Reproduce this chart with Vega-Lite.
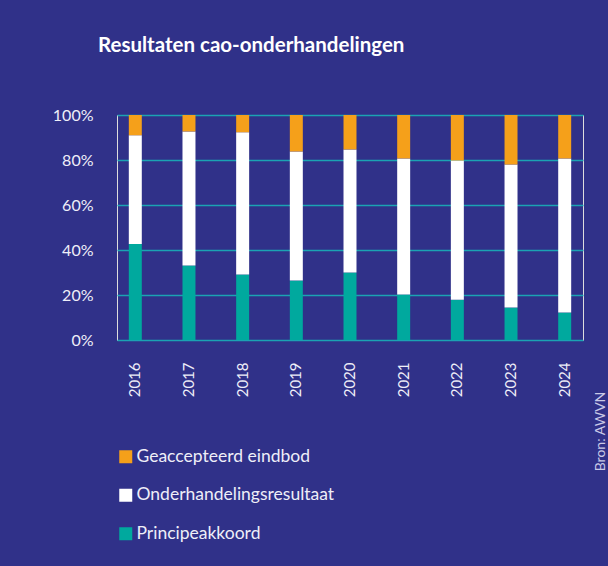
{
  "$schema": "https://vega.github.io/schema/vega-lite/v6.json",
  "autosize": {"type": "none"},
  "width": 466,
  "height": 225,
  "padding": {"left": 117, "top": 115, "right": 25, "bottom": 226},
  "background": "#303189",
  "title": {
    "text": "Resultaten cao-onderhandelingen",
    "anchor": "start",
    "frame": "group",
    "dx": -19,
    "offset": 51,
    "font": "Lato",
    "fontSize": 20.5,
    "fontWeight": "bold",
    "color": "#ffffff"
  },
  "data": {
    "values": [
      {"jaar": "2016", "type": "Principeakkoord", "pct": 42.7},
      {"jaar": "2016", "type": "Onderhandelingsresultaat", "pct": 48.3},
      {"jaar": "2016", "type": "Geaccepteerd eindbod", "pct": 9.0},
      {"jaar": "2017", "type": "Principeakkoord", "pct": 33.1},
      {"jaar": "2017", "type": "Onderhandelingsresultaat", "pct": 59.6},
      {"jaar": "2017", "type": "Geaccepteerd eindbod", "pct": 7.3},
      {"jaar": "2018", "type": "Principeakkoord", "pct": 29.1},
      {"jaar": "2018", "type": "Onderhandelingsresultaat", "pct": 63.2},
      {"jaar": "2018", "type": "Geaccepteerd eindbod", "pct": 7.7},
      {"jaar": "2019", "type": "Principeakkoord", "pct": 26.4},
      {"jaar": "2019", "type": "Onderhandelingsresultaat", "pct": 57.4},
      {"jaar": "2019", "type": "Geaccepteerd eindbod", "pct": 16.2},
      {"jaar": "2020", "type": "Principeakkoord", "pct": 30.0},
      {"jaar": "2020", "type": "Onderhandelingsresultaat", "pct": 54.7},
      {"jaar": "2020", "type": "Geaccepteerd eindbod", "pct": 15.3},
      {"jaar": "2021", "type": "Principeakkoord", "pct": 20.2},
      {"jaar": "2021", "type": "Onderhandelingsresultaat", "pct": 60.5},
      {"jaar": "2021", "type": "Geaccepteerd eindbod", "pct": 19.3},
      {"jaar": "2022", "type": "Principeakkoord", "pct": 17.9},
      {"jaar": "2022", "type": "Onderhandelingsresultaat", "pct": 61.9},
      {"jaar": "2022", "type": "Geaccepteerd eindbod", "pct": 20.2},
      {"jaar": "2023", "type": "Principeakkoord", "pct": 14.4},
      {"jaar": "2023", "type": "Onderhandelingsresultaat", "pct": 63.6},
      {"jaar": "2023", "type": "Geaccepteerd eindbod", "pct": 22.0},
      {"jaar": "2024", "type": "Principeakkoord", "pct": 12.2},
      {"jaar": "2024", "type": "Onderhandelingsresultaat", "pct": 68.5},
      {"jaar": "2024", "type": "Geaccepteerd eindbod", "pct": 19.3}
    ]
  },
  "transform": [
    {"calculate": "datum.type === 'Principeakkoord' ? 0 : datum.type === 'Onderhandelingsresultaat' ? 1 : 2", "as": "volgorde"}
  ],
  "mark": {"type": "bar"},
  "encoding": {
    "x": {
      "field": "jaar",
      "type": "ordinal",
      "scale": {"paddingInner": 0.758, "paddingOuter": 0.22},
      "axis": {
        "title": "Bron: AWVN",
        "titleAngle": 270,
        "titleX": 483,
        "titleY": 91,
        "titleAlign": "center",
        "titleBaseline": "middle",
        "titleFont": "Lato",
        "titleFontSize": 14,
        "titleFontWeight": "normal",
        "titleColor": "#c9c9e6",
        "labelAngle": -90,
        "labelAlign": "right",
        "labelBaseline": "middle",
        "labelPadding": 22,
        "labelFont": "Lato",
        "labelFontSize": 15,
        "labelColor": "#eeeef8",
        "ticks": false,
        "domain": false,
        "grid": false
      }
    },
    "y": {
      "field": "pct",
      "type": "quantitative",
      "stack": "zero",
      "scale": {"domain": [0, 100]},
      "axis": {
        "title": null,
        "values": [0, 20, 40, 60, 80, 100],
        "labelExpr": "datum.value + '%'",
        "labelPadding": 24,
        "labelFont": "Lato",
        "labelFontSize": 16,
        "labelColor": "#eeeef8",
        "ticks": false,
        "domain": false,
        "grid": true,
        "gridColor": "#1ba3b3",
        "gridWidth": 1.5
      }
    },
    "color": {
      "field": "type",
      "type": "nominal",
      "sort": ["Geaccepteerd eindbod", "Onderhandelingsresultaat", "Principeakkoord"],
      "scale": {
        "domain": ["Geaccepteerd eindbod", "Onderhandelingsresultaat", "Principeakkoord"],
        "range": ["#f5a01a", "#ffffff", "#00a99e"]
      },
      "legend": {
        "title": null,
        "orient": "none",
        "legendX": 0,
        "legendY": 333,
        "direction": "vertical",
        "symbolType": "square",
        "symbolSize": 169,
        "symbolStrokeWidth": 0,
        "symbolOpacity": 1,
        "labelFont": "Lato",
        "labelFontSize": 17.5,
        "labelLimit": 400,
        "labelColor": "#eeeef8",
        "labelOffset": 2,
        "rowPadding": 19.5
      }
    },
    "order": {"field": "volgorde", "type": "quantitative"}
  }
}
